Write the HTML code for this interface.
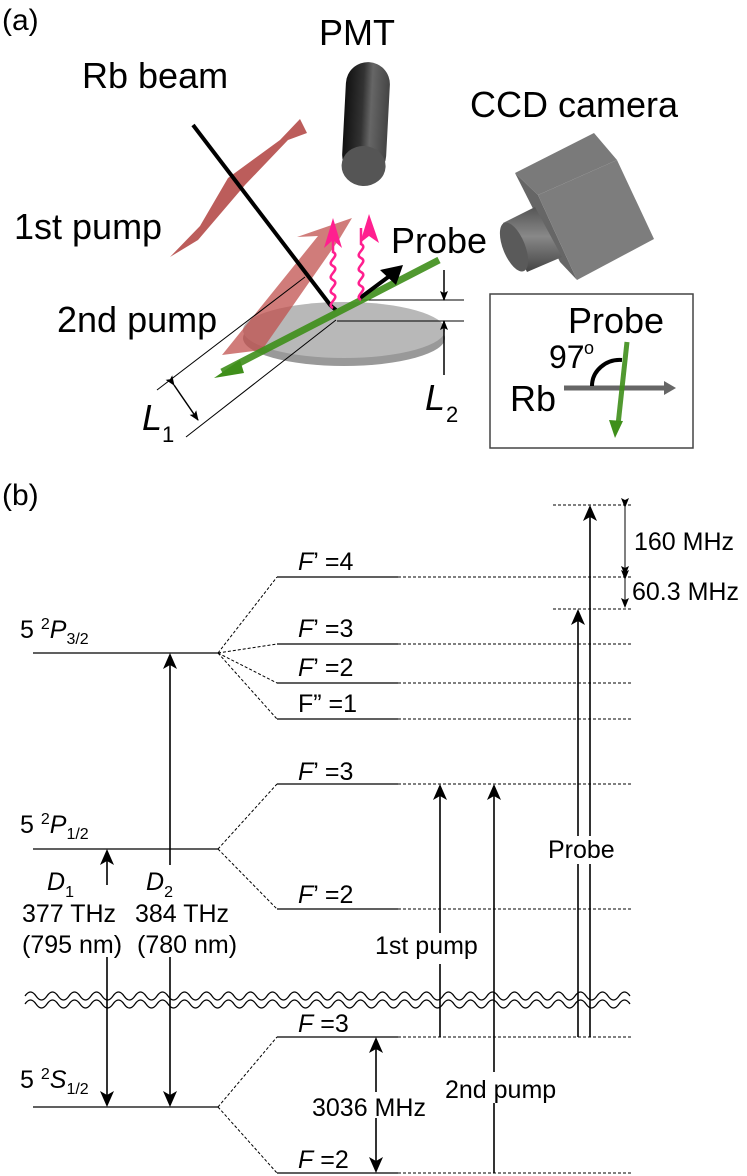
<!DOCTYPE html>
<html><head><meta charset="utf-8"><style>
html,body{margin:0;padding:0;background:#fff}
svg{display:block}
text{font-family:"Liberation Sans",sans-serif;fill:#000}
</style></head><body>
<svg width="747" height="1176" viewBox="0 0 747 1176" xmlns="http://www.w3.org/2000/svg">
<defs>
<linearGradient id="cyl" x1="0" x2="1" y1="0" y2="0">
<stop offset="0" stop-color="#111"/><stop offset="0.4" stop-color="#333"/><stop offset="0.6" stop-color="#666"/><stop offset="1" stop-color="#444"/></linearGradient>
<linearGradient id="lens" x1="0" x2="0" y1="0" y2="1">
<stop offset="0" stop-color="#555"/><stop offset="0.45" stop-color="#888"/><stop offset="1" stop-color="#444"/></linearGradient>
<marker id="ahB" markerWidth="16" markerHeight="14" refX="14" refY="7" orient="auto" markerUnits="userSpaceOnUse"><path d="M0,0 L16,7 L0,14 L4,7 z" fill="#000"/></marker>
<marker id="ahS" markerWidth="10" markerHeight="8" refX="9" refY="4" orient="auto" markerUnits="userSpaceOnUse"><path d="M0,0 L10,4 L0,8 L2,4 z" fill="#000"/></marker>
</defs>

<!-- (a) -->
<text x="2" y="30" font-size="30">(a)</text>
<text x="319" y="45" font-size="36">PMT</text>
<text x="82" y="88" font-size="36">Rb beam</text>
<text x="470" y="117" font-size="36">CCD camera</text>
<text x="14" y="239" font-size="36">1st pump</text>
<text x="57" y="332" font-size="36">2nd pump</text>
<text x="391" y="253" font-size="36">Probe</text>

<g transform="rotate(3 365 120)">
<rect x="344" y="62" width="44" height="115" rx="22" fill="url(#cyl)"/>
<ellipse cx="366" cy="166" rx="22" ry="20" fill="#555"/>
</g>

<polygon points="515,173 594,133 617,160 538,195" fill="#7a7a7a"/>
<polygon points="515,173 538,195 577,280 560,262" fill="#666"/>
<polygon points="538,195 617,160 654,239 577,280" fill="#7d7d7d"/>
<polygon points="503,223 535,207 562,257 527,272" fill="url(#lens)"/>
<ellipse cx="514" cy="247" rx="11" ry="26" transform="rotate(-22 514 247)" fill="#5a5a5a"/>

<ellipse cx="344" cy="338" rx="101" ry="28" fill="#999"/>
<ellipse cx="344" cy="330" rx="101" ry="28" fill="#b8b8b8"/>

<polygon points="300,119 307,133 288,140 245,185 198,240 170,257 200,226 228,178 280,140" fill="#b0413e" opacity="0.85"/>
<polygon points="352,218 297,237 318,236 222,355 262,350 340,238" fill="#c0504d" opacity="0.75"/>

<line x1="193" y1="125" x2="331" y2="306" stroke="#000" stroke-width="4"/>
<line x1="331" y1="306" x2="336" y2="310" stroke="#000" stroke-width="4"/>

<line x1="305" y1="277" x2="157" y2="390" stroke="#000" stroke-width="1"/>
<line x1="336" y1="320" x2="186" y2="437" stroke="#000" stroke-width="1"/>
<line x1="174" y1="385" x2="198" y2="420" stroke="#000" stroke-width="1.5" marker-start="url(#ahS)" marker-end="url(#ahS)"/>
<line x1="360" y1="300" x2="464" y2="300" stroke="#000" stroke-width="1"/>
<line x1="337" y1="321" x2="464" y2="321" stroke="#000" stroke-width="1"/>
<line x1="444" y1="270" x2="444" y2="300" stroke="#000" stroke-width="1.5" marker-end="url(#ahS)"/>
<line x1="444" y1="375" x2="444" y2="321" stroke="#000" stroke-width="1.5" marker-end="url(#ahS)"/>

<line x1="439" y1="260" x2="222" y2="372" stroke="#3f8f1a" stroke-width="7" opacity="0.9"/>
<polygon points="214,378 240,360 244,373" fill="#3f8f1a"/>

<line x1="360" y1="298" x2="395" y2="272" stroke="#000" stroke-width="4"/>
<polygon points="403,265 380,270 396,285" fill="#000"/>

<path d="M333,308 c-8,-4 8,-10 0,-14 c-8,-4 8,-10 0,-14 c-8,-4 8,-10 0,-14 c-8,-4 8,-10 0,-14 l0,-16" fill="none" stroke="#ff1f8f" stroke-width="2.5"/>
<path d="M361,300 c-8,-4 8,-10 0,-14 c-8,-4 8,-10 0,-14 c-8,-4 8,-10 0,-14 c-8,-4 8,-10 0,-14 l0,-16" fill="none" stroke="#ff1f8f" stroke-width="2.5"/>
<polygon points="333,218 324,248 333,240 342,248" fill="#ff1f8f"/>
<polygon points="369,214 360,243 369,236 379,243" fill="#ff1f8f"/>

<text x="142" y="430" font-size="36" font-style="italic">L</text>
<text x="162" y="442" font-size="22">1</text>
<text x="425" y="410" font-size="36" font-style="italic">L</text>
<text x="446" y="422" font-size="22">2</text>

<rect x="490" y="294" width="203" height="154" fill="none" stroke="#444" stroke-width="1.5"/>
<text x="568" y="333" font-size="36">Probe</text>
<text x="549" y="368" font-size="32">97</text>
<text x="584" y="354" font-size="18">o</text>
<text x="510" y="411" font-size="36">Rb</text>
<line x1="564" y1="388" x2="668" y2="388" stroke="#666" stroke-width="5"/>
<polygon points="676,388 664,381 664,395" fill="#666"/>
<path d="M592,386 A28,26 0 0 1 622,360" fill="none" stroke="#000" stroke-width="4"/>
<line x1="627" y1="342" x2="618" y2="425" stroke="#3f8f1a" stroke-width="5" opacity="0.9"/>
<polygon points="615,438 609,420 623,421" fill="#3f8f1a"/>

<!-- (b) -->
<text x="2" y="505" font-size="30">(b)</text>
<g stroke="#000" stroke-width="1.3" fill="none">
<line x1="33" y1="653" x2="218" y2="653"/>
<line x1="33" y1="849" x2="218" y2="849"/>
<line x1="33" y1="1107" x2="218" y2="1107"/>
<line x1="277" y1="577" x2="398" y2="577"/>
<line x1="277" y1="644" x2="398" y2="644"/>
<line x1="277" y1="683" x2="398" y2="683"/>
<line x1="277" y1="719" x2="398" y2="719"/>
<line x1="277" y1="784" x2="398" y2="784"/>
<line x1="277" y1="909" x2="398" y2="909"/>
<line x1="277" y1="1037" x2="398" y2="1037"/>
<line x1="277" y1="1173" x2="398" y2="1173"/>
</g>
<g stroke="#000" stroke-width="1" stroke-dasharray="3,2" fill="none">
<line x1="218" y1="653" x2="277" y2="577"/>
<line x1="218" y1="653" x2="277" y2="644"/>
<line x1="218" y1="653" x2="277" y2="683"/>
<line x1="218" y1="653" x2="277" y2="719"/>
<line x1="218" y1="849" x2="277" y2="784"/>
<line x1="218" y1="849" x2="277" y2="909"/>
<line x1="218" y1="1107" x2="277" y2="1037"/>
<line x1="218" y1="1107" x2="277" y2="1173"/>
<line x1="398" y1="577" x2="633" y2="577"/>
<line x1="398" y1="644" x2="633" y2="644"/>
<line x1="398" y1="683" x2="633" y2="683"/>
<line x1="398" y1="719" x2="633" y2="719"/>
<line x1="398" y1="784" x2="633" y2="784"/>
<line x1="398" y1="909" x2="633" y2="909"/>
<line x1="398" y1="1037" x2="633" y2="1037"/>
<line x1="398" y1="1173" x2="633" y2="1173"/>
<line x1="553" y1="505" x2="633" y2="505"/>
<line x1="553" y1="609" x2="633" y2="609"/>
</g>

<g fill="none" stroke="#000" stroke-width="1.2">
<path d="M25,996 q5.5,-8 11,0 t11,0 t11,0 t11,0 t11,0 t11,0 t11,0 t11,0 t11,0 t11,0 t11,0 t11,0 t11,0 t11,0 t11,0 t11,0 t11,0 t11,0 t11,0 t11,0 t11,0 t11,0 t11,0 t11,0 t11,0 t11,0 t11,0 t11,0 t11,0 t11,0 t11,0 t11,0 t11,0 t11,0 t11,0 t11,0 t11,0 t11,0 t11,0 t11,0 t11,0 t11,0 t11,0 t11,0 t11,0 t11,0 t11,0 t11,0 t11,0 t11,0 t11,0 t11,0 t11,0 t11,0 t11,0"/>
<path d="M25,1004 q5.5,-8 11,0 t11,0 t11,0 t11,0 t11,0 t11,0 t11,0 t11,0 t11,0 t11,0 t11,0 t11,0 t11,0 t11,0 t11,0 t11,0 t11,0 t11,0 t11,0 t11,0 t11,0 t11,0 t11,0 t11,0 t11,0 t11,0 t11,0 t11,0 t11,0 t11,0 t11,0 t11,0 t11,0 t11,0 t11,0 t11,0 t11,0 t11,0 t11,0 t11,0 t11,0 t11,0 t11,0 t11,0 t11,0 t11,0 t11,0 t11,0 t11,0 t11,0 t11,0 t11,0 t11,0 t11,0 t11,0"/>
</g>

<g stroke="#000" stroke-width="1.6" fill="none">
<line x1="170" y1="865" x2="170" y2="655" marker-end="url(#ahB)"/>
<line x1="107" y1="885" x2="107" y2="851" marker-end="url(#ahB)"/>
<line x1="107" y1="957" x2="107" y2="1105" marker-end="url(#ahB)"/>
<line x1="170" y1="957" x2="170" y2="1105" marker-end="url(#ahB)"/>
<line x1="376" y1="1092" x2="376" y2="1039" marker-end="url(#ahB)"/>
<line x1="376" y1="1118" x2="376" y2="1171" marker-end="url(#ahB)"/>
<line x1="440" y1="1037" x2="440" y2="964"/>
<line x1="440" y1="933" x2="440" y2="786" marker-end="url(#ahB)"/>
<line x1="494" y1="1173" x2="494" y2="1103"/>
<line x1="494" y1="1072" x2="494" y2="786" marker-end="url(#ahB)"/>
<line x1="578" y1="1037" x2="578" y2="864"/>
<line x1="590" y1="1037" x2="590" y2="864"/>
<line x1="578" y1="836" x2="578" y2="611" marker-end="url(#ahB)"/>
<line x1="590" y1="836" x2="590" y2="507" marker-end="url(#ahB)"/>
</g>
<g stroke="#000" stroke-width="1" fill="none">
<line x1="625" y1="507" x2="625" y2="575" marker-start="url(#ahS)" marker-end="url(#ahS)"/>
<line x1="625" y1="579" x2="625" y2="607" marker-start="url(#ahS)" marker-end="url(#ahS)"/>
</g>

<g font-size="25">
<text x="634" y="550">160 MHz</text>
<text x="632" y="600">60.3 MHz</text>
<text x="298" y="570"><tspan font-style="italic">F</tspan>’  =4</text>
<text x="298" y="637"><tspan font-style="italic">F</tspan>’  =3</text>
<text x="298" y="676"><tspan font-style="italic">F</tspan>’  =2</text>
<text x="298" y="712">F”  =1</text>
<text x="298" y="780"><tspan font-style="italic">F</tspan>’  =3</text>
<text x="298" y="903"><tspan font-style="italic">F</tspan>’  =2</text>
<text x="298" y="1032"><tspan font-style="italic">F</tspan> =3</text>
<text x="298" y="1168"><tspan font-style="italic">F</tspan> =2</text>
<text x="20" y="638">5 <tspan font-size="16" dy="-9">2</tspan><tspan font-style="italic" dy="9">P</tspan><tspan font-size="16" dy="6">3/2</tspan></text>
<text x="20" y="833">5 <tspan font-size="16" dy="-9">2</tspan><tspan font-style="italic" dy="9">P</tspan><tspan font-size="16" dy="6">1/2</tspan></text>
<text x="20" y="1088">5 <tspan font-size="16" dy="-9">2</tspan><tspan font-style="italic" dy="9">S</tspan><tspan font-size="16" dy="6">1/2</tspan></text>
<text x="47" y="890" font-style="italic">D<tspan font-size="16" font-style="normal" dy="7">1</tspan></text>
<text x="146" y="890" font-style="italic">D<tspan font-size="16" font-style="normal" dy="7">2</tspan></text>
<text x="22" y="922">377 THz</text>
<text x="135" y="922">384 THz</text>
<text x="22" y="953">(795 nm)</text>
<text x="137" y="953">(780 nm)</text>
<text x="375" y="954">1st pump</text>
<text x="445" y="1098">2nd pump</text>
<text x="312" y="1116">3036 MHz</text>
<text x="548" y="858">Probe</text>
</g>
</svg>
</body></html>
